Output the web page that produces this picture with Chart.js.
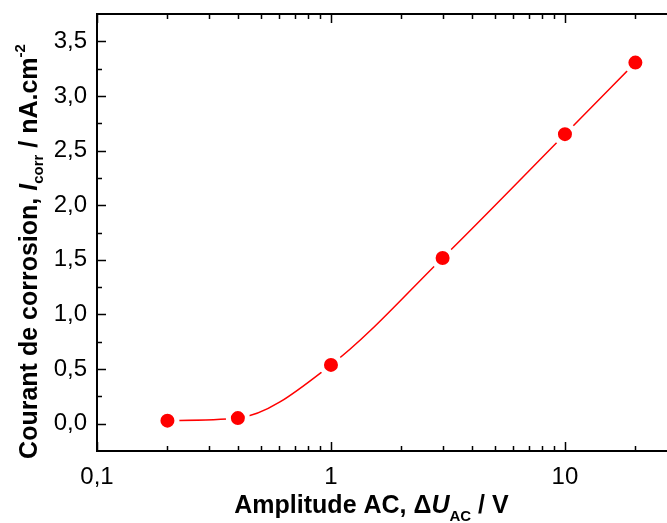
<!DOCTYPE html>
<html>
<head>
<meta charset="utf-8">
<script src="https://cdn.jsdelivr.net/npm/chart.js@4"></script>
<style>
  html, body { margin: 0; padding: 0; background: #fff; overflow: hidden; }
  #wrap { position: absolute; left: 0; top: 0; width: 667px; height: 523px; }
</style>
</head>
<body>
<div id="wrap"><canvas id="c" width="667" height="523"></canvas></div>
<script>
// Data
const amplitudes = [0.2, 0.4, 1, 3, 10, 20];           // ΔU_AC / V
const currents   = [0.028, 0.051, 0.538, 1.517, 2.65, 3.305]; // I_corr / nA.cm-2
const yTickValues = [0, 0.5, 1, 1.5, 2, 2.5, 3, 3.5];
const yMinorValues = [0.25, 0.75, 1.25, 1.75, 2.25, 2.75, 3.25];
const xTickValues = [0.1, 1, 10];
const xMinorValues = [0.2, 0.3, 0.4, 0.5, 0.6, 0.7, 0.8, 0.9, 2, 3, 4, 5, 6, 7, 8, 9, 20];

const RED = '#ff0000';
const FONT = '"Liberation Sans", Arial, sans-serif';

function fmt(v) {
  return (Math.round(v * 10) / 10).toString().replace('.', ',');
}

function measureParts(ctx, parts, size) {
  return parts.map(p => {
    const s = (p.sub || p.sup) ? size * 0.6 : size;
    ctx.font = (p.italic ? 'italic ' : '') + 'bold ' + s + 'px ' + FONT;
    return ctx.measureText(p.t).width;
  });
}

function zeroPad(s) {
  s.paddingTop = 0; s.paddingBottom = 0; s.paddingLeft = 0; s.paddingRight = 0;
}

const framePlugin = {
  id: 'frameTicks',
  afterDatasetsDraw(chart) {
    const ctx = chart.ctx;
    const a = chart.chartArea;
    const xs = chart.scales.x, ys = chart.scales.y;
    ctx.save();
    ctx.strokeStyle = '#000';
    ctx.lineWidth = 1.5;
    ctx.beginPath();
    yTickValues.forEach(v => { const y = Math.round(ys.getPixelForValue(v)) + 0.5; ctx.moveTo(a.left, y); ctx.lineTo(a.left + 9, y); });
    yMinorValues.forEach(v => { const y = Math.round(ys.getPixelForValue(v)) + 0.5; ctx.moveTo(a.left, y); ctx.lineTo(a.left + 5, y); });
    xTickValues.forEach(v => { const x = Math.round(xs.getPixelForValue(v)) + 0.5; ctx.moveTo(x, a.bottom); ctx.lineTo(x, a.bottom - 9); ctx.moveTo(x, a.top); ctx.lineTo(x, a.top + 9); });
    xMinorValues.forEach(v => { const x = Math.round(xs.getPixelForValue(v)) + 0.5; ctx.moveTo(x, a.bottom); ctx.lineTo(x, a.bottom - 5); ctx.moveTo(x, a.top); ctx.lineTo(x, a.top + 5); });
    ctx.stroke();
    // frame: left, top, bottom (right axis lies beyond the visible area)
    ctx.lineWidth = 2;
    ctx.beginPath();
    ctx.moveTo(chart.width + 5, a.top);
    ctx.lineTo(a.left, a.top);
    ctx.lineTo(a.left, a.bottom);
    ctx.lineTo(chart.width + 5, a.bottom);
    ctx.stroke();

    // Axis titles
    ctx.fillStyle = '#000';
    ctx.textBaseline = 'alphabetic';
    ctx.textAlign = 'left';
    const size = 25;
    const xParts = [
      {t: 'Amplitude AC, '},
      {t: '\u0394'},
      {t: 'U', italic: true},
      {t: 'AC', sub: true},
      {t: ' / V'}
    ];
    let w = measureParts(ctx, xParts, size);
    let total = w.reduce((s, v) => s + v, 0);
    let x0 = 371.5 - total / 2;
    const xBase = 512.5;
    xParts.forEach((p, i) => {
      const s = (p.sub || p.sup) ? size * 0.6 : size;
      ctx.font = (p.italic ? 'italic ' : '') + 'bold ' + s + 'px ' + FONT;
      const dy = p.sub ? 8 : (p.sup ? -10 : 0);
      ctx.fillText(p.t, x0, xBase + dy);
      x0 += w[i];
    });

    const yParts = [
      {t: 'Courant de corrosion, '},
      {t: 'I', italic: true},
      {t: 'corr', sub: true},
      {t: ' / nA.cm'},
      {t: '-2', sup: true}
    ];
    w = measureParts(ctx, yParts, size);
    total = w.reduce((s, v) => s + v, 0);
    ctx.translate(37, 251.5);
    ctx.rotate(-Math.PI / 2);
    let t0 = -total / 2;
    yParts.forEach((p, i) => {
      const s = (p.sub || p.sup) ? size * 0.6 : size;
      ctx.font = (p.italic ? 'italic ' : '') + 'bold ' + s + 'px ' + FONT;
      const dy = p.sub ? 6 : (p.sup ? -12 : 0);
      ctx.fillText(p.t, t0, dy);
      t0 += w[i];
    });
    ctx.restore();
  }
};

new Chart(document.getElementById('c'), {
  type: 'line',
  data: {
    datasets: [{
      data: amplitudes.map((a, i) => ({x: a, y: currents[i]})),
      borderColor: RED,
      borderWidth: 1.5,
      cubicInterpolationMode: 'monotone',
      pointRadius: 9.5,
      pointHoverRadius: 9.5,
      pointBackgroundColor: RED,
      pointBorderColor: '#ffffff',
      pointBorderWidth: 5,
      fill: false
    }]
  },
  options: {
    responsive: false,
    devicePixelRatio: 1,
    animation: false,
    events: [],
    layout: { autoPadding: false, padding: { left: 0, top: 14, right: 0, bottom: 0 } },
    plugins: { legend: { display: false }, tooltip: { enabled: false } },
    scales: {
      x: {
        type: 'logarithmic',
        min: 0.1, max: 27.3,
        grid: { display: false, drawTicks: false },
        border: { display: false },
        afterBuildTicks: s => { s.ticks = xTickValues.map(v => ({value: v})); },
        afterFit: s => { s.height = 72; zeroPad(s); },
        ticks: {
          padding: 12,
          autoSkip: false,
          maxRotation: 0,
          color: '#000',
          font: { family: FONT, size: 24 },
          callback: v => fmt(v)
        }
      },
      y: {
        min: -0.25, max: 3.75,
        grid: { display: false, drawTicks: false },
        border: { display: false },
        afterBuildTicks: s => { s.ticks = yTickValues.map(v => ({value: v})); },
        afterFit: s => { s.width = 97; zeroPad(s); },
        ticks: {
          padding: 10,
          color: '#000',
          font: { family: FONT, size: 24 },
          callback: v => v.toFixed(1).replace('.', ',')
        }
      }
    }
  },
  plugins: [framePlugin]
});
</script>
</body>
</html>
